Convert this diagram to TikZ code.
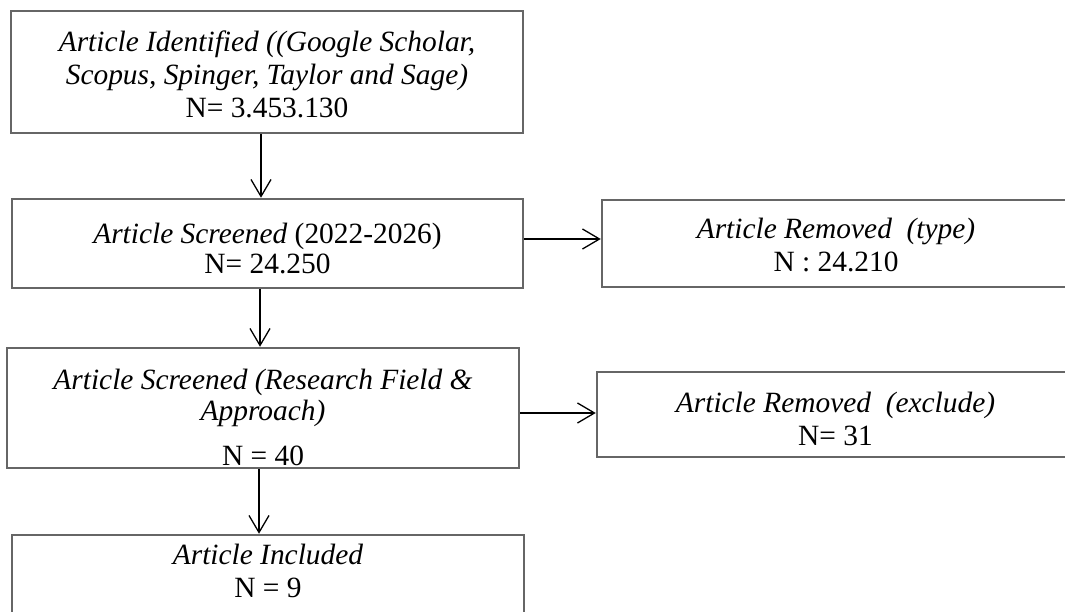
\documentclass[tikz,border=0pt]{standalone}
\usepackage{fontspec}
\setmainfont{Liberation Serif}
\usetikzlibrary{arrows.meta,calc}
\begin{document}
\begin{tikzpicture}[x=1pt,y=-1pt,
  box/.style={draw=black!60, line width=2.5pt, rectangle, inner sep=0pt},
  txt/.style={align=center, inner sep=0pt, font=\fontsize{29.4}{33}\selectfont},
  arr/.style={draw=black, line width=1.3pt, -{Straight Barb[length=17pt,width=20pt,line width=1.3pt]}}]
\useasboundingbox (0,0) rectangle (1065,612);
% boxes
\node[box, minimum width=512, minimum height=122] (b1) at (267,72) {};
\node[box, minimum width=511, minimum height=89] (b2) at (267.5,243.5) {};
\node[box, minimum width=468, minimum height=87] (b3) at (836,243.5) {};
\node[box, minimum width=512, minimum height=120] (b4) at (263,408) {};
\node[box, minimum width=477, minimum height=85] (b5) at (835.5,414.5) {};
\node[box, minimum width=512, minimum height=80] (b6) at (268,575) {};
% texts
\node[txt] (t1) at ([yshift=-2.5pt]b1.center)
  {\textit{Article Identified ((Google Scholar,}\\\textit{Scopus, Spinger, Taylor and Sage)}\\N= 3.453.130};
\node[txt] (t2) at ([yshift=-5.5pt]b2.center)
  {\textit{Article Screened} (2022-2026)\\[-3pt]N= 24.250};
\node[txt] (t3) at ([yshift=-2pt]b3.center)
  {\textit{Article Removed\ \ (type)}\\N : 24.210};
\node[txt] (t4) at ([yshift=-9pt]b4.center)
  {\textit{Article Screened (Research Field \&}\\[-2pt]\textit{Approach)}\\[12pt]N = 40};
\node[txt] (t5) at ([yshift=-4pt]b5.center)
  {\textit{Article Removed\ \ (exclude)}\\N= 31};
\node[txt] (t6) at ([yshift=4pt]b6.center)
  {\textit{Article Included}\\N = 9};
% connectors
\draw[arr] ([xshift=-6pt]b1.south) -- ([xshift=-6pt]b1.south |- b2.north);
\draw[arr] ([xshift=-7.5pt]b2.south) -- ([xshift=-7.5pt]b2.south |- b4.north);
\draw[arr] ([xshift=-4pt]b4.south) -- ([xshift=-4pt]b4.south |- b6.north);
\draw[arr] ([yshift=4.5pt]b2.east) -- ([yshift=4.5pt]b2.east -| b3.west);
\draw[arr] ([yshift=-5pt]b4.east) -- ([yshift=-5pt]b4.east -| b5.west);
\end{tikzpicture}
\end{document}
